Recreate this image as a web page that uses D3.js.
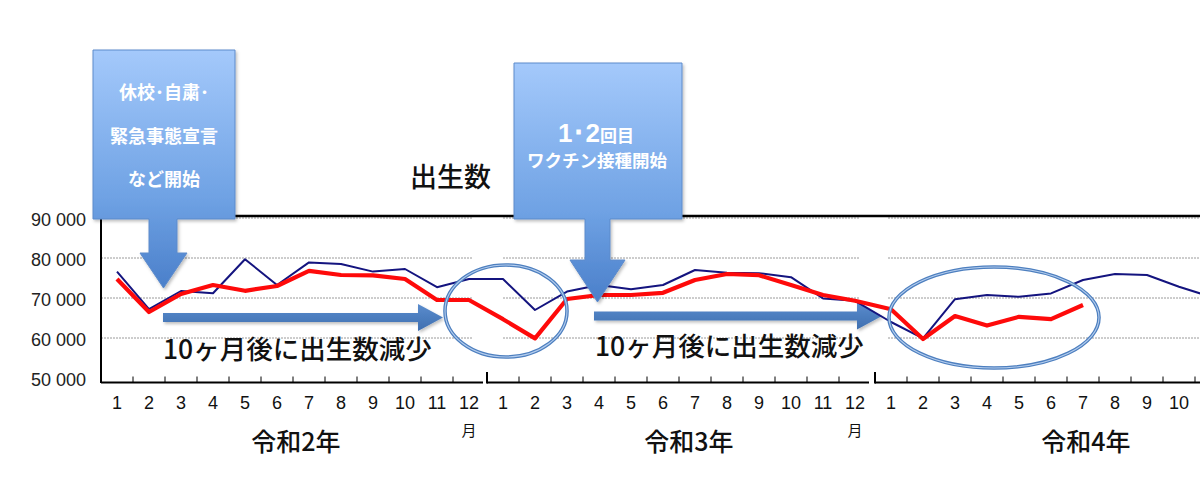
<!DOCTYPE html>
<html><head><meta charset="utf-8">
<script src="https://cdn.jsdelivr.net/npm/d3@7"></script>
<style>
body{margin:0;background:#fff}
svg{display:block}
</style>
</head><body>
<svg id="c" width="1200" height="495"></svg>
<script>
// ---- data ----
const months = ["1","2","3","4","5","6","7","8","9","10","11","12"];
const yearLabels = ["令和2年","令和3年","令和4年"];
const yTicks = [50000, 60000, 70000, 80000, 90000];
// red: births in the shown year (令和2年 Jan … 令和4年 Jul)
const birthsCurrent = [
  74750, 66500, 71000, 73250, 71800, 73000, 76800, 75750, 75650, 74750, 69500, 69500,
  64700, 59900, 69750, 70750, 70750, 71300, 74500, 76000, 75700, 73250, 70750, 69300,
  67200, 59750, 65500, 63100, 65300, 64700, 68250
];
// blue: births in the previous year, same month
const birthsPrevious = [
  76600, 67200, 71750, 71200, 79700, 73250, 78900, 78500, 76600, 77250, 72700, 74750,
  74750, 67000, 71600, 73250, 72200, 73250, 77000, 76300, 76200, 75200, 69900, 69300,
  64000, 59900, 69700, 70750, 70300, 71150, 74500, 76000, 75750, 72800, 70300
];
const titleText = "出生数";
const noteText = "10ヶ月後に出生数減少";
const callout1Lines = ["休校･自粛･", "緊急事態宣言", "など開始"];
const callout2Big = "1･2";
const callout2Small = "回目";
const callout2Line2 = "ワクチン接種開始";
const monthUnit = "月";

// ---- layout ----
const W = 1200;
const svg = d3.select("#c");
const panelStarts = [101, 487, 875];
const bandW = 32;
const axisY = 382.5;
const xs = panelStarts.map(s => d3.scaleBand().domain(months).range([s, s + bandW * 12]).padding(0));
const y = d3.scaleLinear().domain([50000, 90000]).range([378, 218]);
const xAt = i => { const p = Math.floor(i / 12); const sc = xs[p]; return sc(months[i % 12]) + sc.bandwidth() / 2; };

const defs = svg.append("defs");
const g1 = defs.append("linearGradient").attr("id","calloutGrad").attr("x1",0).attr("y1",0).attr("x2",0).attr("y2",1);
g1.append("stop").attr("offset","0%").attr("stop-color","#a4c9fb");
g1.append("stop").attr("offset","62%").attr("stop-color","#6fa2e4");
g1.append("stop").attr("offset","100%").attr("stop-color","#4a7fca");
const g2 = defs.append("linearGradient").attr("id","arrowGrad").attr("x1",0).attr("y1",0).attr("x2",0).attr("y2",1);
g2.append("stop").attr("offset","0%").attr("stop-color","#5a8ccd");
g2.append("stop").attr("offset","100%").attr("stop-color","#3f6fb0");
const f = defs.append("filter").attr("id","shadow").attr("x","-10%").attr("y","-10%").attr("width","130%").attr("height","130%");
f.append("feDropShadow").attr("dx",1.5).attr("dy",2).attr("stdDeviation",1.5).attr("flood-color","#000").attr("flood-opacity",0.25);

// gridlines
const gridExt = [[101, 473], [503, 860], [888, 1200]];
gridExt.forEach(([a, b]) => {
  svg.append("g").selectAll("line").data(yTicks.slice(1)).join("line")
    .attr("x1", a).attr("x2", b).attr("y1", d => y(d)).attr("y2", d => y(d))
    .attr("stroke", "#9a9a9a").attr("stroke-width", 1).attr("stroke-dasharray", "2,1");
});

// top black line
svg.append("line").attr("x1", 101).attr("x2", W).attr("y1", 216).attr("y2", 216)
  .attr("stroke", "#000").attr("stroke-width", 2.5);

// y axis labels (panel 1)
const yAxis = d3.axisLeft(y).tickValues(yTicks).tickSize(0).tickPadding(15)
  .tickFormat(d => d3.format(",")(d).replace(",", " "));
const ya = svg.append("g").attr("transform", "translate(101,0)").call(yAxis);
ya.select(".domain").remove();
ya.selectAll("text").attr("font-family", "'Liberation Sans', Arial, sans-serif").attr("font-size", 18).attr("fill", "#222").attr("dy", "0.4em");
svg.append("line").attr("x1", 101).attr("x2", 101).attr("y1", 217).attr("y2", axisY + 0.5)
  .attr("stroke", "#000").attr("stroke-width", 2);

// x axes per panel
xs.forEach((sc, p) => {
  const [a, b] = sc.range();
  const end = Math.min(b - (p < 2 ? 2 : 0), W);
  svg.append("line").attr("x1", a).attr("x2", end).attr("y1", axisY).attr("y2", axisY)
    .attr("stroke", "#000").attr("stroke-width", 2);
  if (p > 0) {
    svg.append("line").attr("x1", a).attr("x2", a).attr("y1", 372).attr("y2", axisY + 1)
      .attr("stroke", "#000").attr("stroke-width", 2);
  }
  svg.append("g").selectAll("line").data(months.slice(1).filter(d => sc(d) < W)).join("line")
    .attr("x1", d => sc(d)).attr("x2", d => sc(d)).attr("y1", axisY - 6).attr("y2", axisY)
    .attr("stroke", "#000").attr("stroke-width", 1);
  const visible = months.filter(d => sc(d) + sc.bandwidth() / 2 + 9 < W);
  const xa = svg.append("g").attr("transform", `translate(0,${axisY})`)
    .call(d3.axisBottom(sc).tickValues(visible).tickSize(0).tickPadding(14));
  xa.select(".domain").remove();
  xa.selectAll("text").attr("font-family", "'Liberation Sans Narrow', 'Liberation Sans', Arial, sans-serif")
    .attr("font-size", 18).attr("fill", "#111");
});

// month unit under 12
[0, 1].forEach(p => {
  svg.append("text").attr("x", xs[p]("12") + bandW / 2).attr("y", 436)
    .attr("text-anchor", "middle").attr("font-family", "'Noto Sans CJK JP', sans-serif")
    .attr("font-size", 15).attr("fill", "#111").text(monthUnit);
});

// year labels
const yearX = [296, 689, 1086];
yearLabels.forEach((t, p) => {
  svg.append("text").attr("x", yearX[p]).attr("y", 451).attr("text-anchor", "middle")
    .attr("font-family", "'Noto Sans CJK JP', sans-serif").attr("font-size", 25).attr("font-weight", 500)
    .attr("fill", "#111").text(t);
});

// horizontal arrows
const hArrows = [
  {x0: 163, x1: 418, tip: 443, cy: 317.5},
  {x0: 594, x1: 857, tip: 882, cy: 316}
];
hArrows.forEach(a => {
  const h = 4.5, H = 13.5;
  const path = `M${a.x0},${a.cy - h} L${a.x1},${a.cy - h} L${a.x1},${a.cy - H} L${a.tip},${a.cy} L${a.x1},${a.cy + H} L${a.x1},${a.cy + h} L${a.x0},${a.cy + h} Z`;
  svg.append("path").attr("d", path).attr("fill", "url(#arrowGrad)").attr("filter", "url(#shadow)");
});

// lines
const lineGen = d3.line().x((d, i) => xAt(i)).y(d => y(d));
svg.append("path").datum(birthsPrevious).attr("d", lineGen)
  .attr("fill", "none").attr("stroke", "#14147f").attr("stroke-width", 2).attr("stroke-linejoin", "round");
svg.append("path").datum(birthsCurrent).attr("d", lineGen)
  .attr("fill", "none").attr("stroke", "#fe0a0a").attr("stroke-width", 4.2).attr("stroke-linejoin", "round");

// ellipses
const ellipses = [{cx: 506, cy: 311, rx: 61, ry: 46}, {cx: 994, cy: 317.5, rx: 105, ry: 50.5}];
ellipses.forEach(e => {
  svg.append("ellipse").attr("cx", e.cx).attr("cy", e.cy).attr("rx", e.rx).attr("ry", e.ry)
    .attr("fill", "none").attr("stroke", "#4d7fbf").attr("stroke-width", 3.6);
  svg.append("ellipse").attr("cx", e.cx).attr("cy", e.cy).attr("rx", e.rx).attr("ry", e.ry)
    .attr("fill", "none").attr("stroke", "#b4cdee").attr("stroke-width", 1.1);
});

// note texts
[{x: 163, y: 359}, {x: 595, y: 356}].forEach(t => {
  svg.append("text").attr("x", t.x).attr("y", t.y)
    .attr("font-family", "'Noto Sans CJK JP', sans-serif").attr("font-size", 26.5).attr("font-weight", 500)
    .attr("fill", "#111").text(noteText);
});

// title
svg.append("text").attr("x", 410).attr("y", 187)
  .attr("font-family", "'Noto Sans CJK JP', sans-serif").attr("font-size", 27).attr("font-weight", 500)
  .attr("fill", "#111").text(titleText);

// callouts
function callout(b) {
  const p = `M${b.x0},${b.y0} L${b.x1},${b.y0} L${b.x1},${b.y1} L${b.s1},${b.y1} L${b.s1},${b.hy} L${b.h1},${b.hy} L${b.tx},${b.ty} L${b.h0},${b.hy} L${b.s0},${b.hy} L${b.s0},${b.y1} L${b.x0},${b.y1} Z`;
  svg.append("path").attr("d", p).attr("fill", "url(#calloutGrad)").attr("stroke", "#5d8bcb")
    .attr("stroke-width", 1).attr("filter", "url(#shadow)");
}
callout({x0: 93, y0: 50, x1: 235, y1: 219, s0: 149, s1: 177, hy: 253, h0: 140, h1: 187, tx: 163.5, ty: 288});
callout({x0: 514, y0: 63, x1: 682, y1: 219, s0: 585, s1: 610, hy: 260, h0: 570, h1: 625, tx: 597.5, ty: 302});

const c1y = [99, 143, 186];
callout1Lines.forEach((t, i) => {
  svg.append("text").attr("x", 164).attr("y", c1y[i]).attr("text-anchor", "middle")
    .attr("font-family", "'Noto Sans CJK JP', sans-serif").attr("font-size", 18).attr("font-weight", 700)
    .attr("fill", "#fff").text(t);
});
const t2 = svg.append("text").attr("x", 596).attr("y", 142).attr("text-anchor", "middle")
  .attr("font-family", "'Noto Sans CJK JP', sans-serif").attr("font-weight", 700).attr("fill", "#fff");
t2.append("tspan").attr("font-size", 26).attr("font-family", "'Liberation Sans', Arial, sans-serif").text(callout2Big);
t2.append("tspan").attr("font-size", 17).text(callout2Small);
svg.append("text").attr("x", 597).attr("y", 167).attr("text-anchor", "middle")
  .attr("font-family", "'Noto Sans CJK JP', sans-serif").attr("font-size", 17.5).attr("font-weight", 700)
  .attr("fill", "#fff").text(callout2Line2);
</script>
</body></html>
